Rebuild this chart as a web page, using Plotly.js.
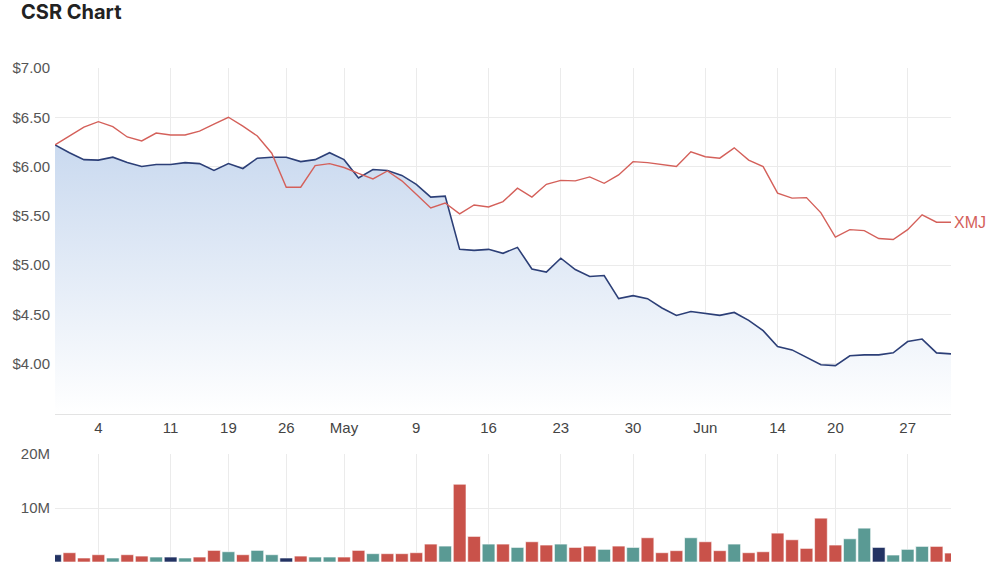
<!DOCTYPE html>
<html>
<head>
<meta charset="utf-8">
<script src="https://cdn.plot.ly/plotly-3.0.1.min.js"></script>
<style>html,body{margin:0;padding:0;background:#fff;}#chart{width:1000px;height:576px;}</style>
</head>
<body>
<div id="chart"></div>
<script>
const dates = [
  '2022-03-30','2022-03-31','2022-04-01',
  '2022-04-04','2022-04-05','2022-04-06','2022-04-07','2022-04-08',
  '2022-04-11','2022-04-12','2022-04-13','2022-04-14',
  '2022-04-19','2022-04-20','2022-04-21','2022-04-22',
  '2022-04-26','2022-04-27','2022-04-28','2022-04-29',
  '2022-05-02','2022-05-03','2022-05-04','2022-05-05','2022-05-06',
  '2022-05-09','2022-05-10','2022-05-11','2022-05-12','2022-05-13',
  '2022-05-16','2022-05-17','2022-05-18','2022-05-19','2022-05-20',
  '2022-05-23','2022-05-24','2022-05-25','2022-05-26','2022-05-27',
  '2022-05-30','2022-05-31','2022-06-01','2022-06-02','2022-06-03',
  '2022-06-06','2022-06-07','2022-06-08','2022-06-09','2022-06-10',
  '2022-06-14','2022-06-15','2022-06-16','2022-06-17',
  '2022-06-20','2022-06-21','2022-06-22','2022-06-23','2022-06-24',
  '2022-06-27','2022-06-28','2022-06-29','2022-06-30'
];
const csrPrice = [
  6.22, 6.14, 6.07,
  6.065, 6.095, 6.04, 6.00, 6.02,
  6.02, 6.04, 6.03, 5.96,
  6.03, 5.98, 6.085, 6.095,
  6.095, 6.05, 6.07, 6.14,
  6.07, 5.885, 5.97, 5.96, 5.91,
  5.82, 5.69, 5.70, 5.16, 5.15,
  5.16, 5.12, 5.18, 4.96, 4.93,
  5.07, 4.955, 4.885, 4.895, 4.66,
  4.69, 4.66, 4.565, 4.49, 4.53,
  4.51, 4.49, 4.52, 4.44, 4.335,
  4.175, 4.14, 4.065, 3.99,
  3.98, 4.08, 4.09, 4.09, 4.11,
  4.225, 4.25, 4.11, 4.10
];
const xmjPrice = [
  6.22, 6.31, 6.40,
  6.455, 6.405, 6.30, 6.26, 6.34,
  6.32, 6.32, 6.36, 6.43,
  6.50, 6.41, 6.31, 6.135,
  5.79, 5.79, 6.01, 6.03,
  5.99, 5.93, 5.875, 5.955, 5.855,
  5.72, 5.58, 5.63, 5.52, 5.61,
  5.59, 5.645, 5.78, 5.69, 5.82,
  5.86, 5.855, 5.895, 5.83, 5.915,
  6.05, 6.04, 6.02, 6.00, 6.15,
  6.10, 6.085, 6.19, 6.065, 6.00,
  5.73, 5.68, 5.685, 5.53,
  5.285, 5.36, 5.35, 5.27, 5.26,
  5.36, 5.51, 5.435, 5.435
];
const volumeM = [
  1.35, 1.72, 0.74,
  1.35, 0.74, 1.35, 1.10, 0.92,
  0.92, 0.74, 0.92, 2.15,
  1.90, 1.35, 2.15, 1.35,
  0.74, 1.10, 0.92, 0.92,
  0.92, 2.15, 1.54, 1.54, 1.54,
  1.72, 3.32, 2.95, 14.4, 4.74,
  3.32, 3.32, 2.70, 3.75, 3.14,
  3.32, 2.70, 2.95, 2.34, 2.95,
  2.70, 4.49, 1.72, 2.10, 4.49,
  3.75, 2.10, 3.32, 1.72, 1.90,
  5.35, 4.12, 2.52, 8.12,
  3.14, 4.30, 6.27, 2.70, 1.29,
  2.34, 2.89, 2.89, 1.66
];
const tickDates = ['2022-04-04','2022-04-11','2022-04-19','2022-04-26','2022-05-02','2022-05-09','2022-05-16','2022-05-23','2022-05-30','2022-06-06','2022-06-14','2022-06-20','2022-06-27'];
const tickLabels = ['4','11','19','26','May','9','16','23','30','Jun','14','20','27'];
const priceTicks = [4.0, 4.5, 5.0, 5.5, 6.0, 6.5, 7.0];
const priceTickLabels = ['$4.00','$4.50','$5.00','$5.50','$6.00','$6.50','$7.00'];
const volTicks = [10e6, 20e6];
const volTickLabels = ['10M','20M'];

const RED = '#c9524a', TEAL = '#5a9a94', NAVY = '#233363';
const volume = volumeM.map(v => v * 1e6);
const barColors = csrPrice.map((p, i) => {
  if (i === 0) return NAVY;
  if (p > csrPrice[i-1]) return TEAL;
  if (p < csrPrice[i-1]) return RED;
  return NAVY;
});

const traces = [
  {
    x: dates, y: csrPrice, type: 'scatter', mode: 'lines', name: 'CSR',
    line: {color: '#2c3f77', width: 1.6},
    fill: 'tozeroy',
    fillgradient: {type: 'vertical', start: 3.49, stop: 6.25,
      colorscale: [[0, 'rgba(255,255,255,1)'], [1, 'rgb(201,217,239)']]},
    xaxis: 'x', yaxis: 'y', hoverinfo: 'skip'
  },
  {
    x: dates, y: xmjPrice, type: 'scatter', mode: 'lines', name: 'XMJ',
    line: {color: '#d4605a', width: 1.4},
    xaxis: 'x', yaxis: 'y', hoverinfo: 'skip'
  },
  {
    x: dates, y: volume, type: 'bar', name: 'Volume',
    marker: {color: barColors, line: {color: 'rgba(255,255,255,0.6)', width: 1}},
    xaxis: 'x2', yaxis: 'y2', hoverinfo: 'skip'
  }
];

const gridC = '#ebebeb';
const tickFont = {family: '"Liberation Sans", Arial, sans-serif', size: 15, color: '#555'};
const layout = {
  width: 1000, height: 576,
  margin: {l: 55, r: 49, t: 0, b: 0},
  paper_bgcolor: '#fff', plot_bgcolor: '#fff',
  showlegend: false,
  bargap: 0.12,
  font: {family: '"Liberation Sans", Arial, sans-serif', color: '#555', size: 15},
  title: {text: '<b>CSR Chart</b>', x: 0.021, xanchor: 'left', xref: 'container',
          y: 0.979, yanchor: 'middle', yref: 'container',
          font: {size: 20, color: '#222', family: 'Inter, Roboto, sans-serif'}},
  xaxis: {
    type: 'category', range: [0, dates.length - 1], anchor: 'y',
    tickmode: 'array', tickvals: tickDates, ticktext: tickLabels,
    showgrid: true, gridcolor: gridC, zeroline: false,
    showline: true, linecolor: '#e3e3e3', linewidth: 1,
    ticks: '', tickfont: Object.assign({}, tickFont, {color: '#444'})
  },
  xaxis2: {
    type: 'category', range: [0, dates.length - 1], anchor: 'y2', matches: 'x',
    tickmode: 'array', tickvals: tickDates, ticktext: tickLabels,
    showticklabels: false, showgrid: true, gridcolor: gridC, zeroline: false,
    showline: false, ticks: ''
  },
  yaxis: {
    domain: [0.2813, 0.882], range: [3.49, 7.0],
    tickmode: 'array', tickvals: priceTicks, ticktext: priceTickLabels,
    showgrid: true, gridcolor: gridC, zeroline: false, showline: false,
    ticks: '', tickfont: tickFont, ticklabelstandoff: 4
  },
  yaxis2: {
    domain: [0.0243, 0.2118], range: [0, 20e6],
    tickmode: 'array', tickvals: volTicks, ticktext: volTickLabels,
    showgrid: true, gridcolor: gridC, zeroline: false, showline: false,
    ticks: '', tickfont: tickFont, ticklabelstandoff: 4
  },
  annotations: [{
    x: dates[dates.length - 1], y: xmjPrice[xmjPrice.length - 1],
    xref: 'x', yref: 'y', text: 'XMJ', showarrow: false,
    xanchor: 'left', yanchor: 'middle', xshift: 1,
    font: {size: 16, color: '#d4605a', family: '"Liberation Sans", Arial, sans-serif'}
  }]
};

Plotly.newPlot('chart', traces, layout, {staticPlot: true, displayModeBar: false});
</script>
</body>
</html>
